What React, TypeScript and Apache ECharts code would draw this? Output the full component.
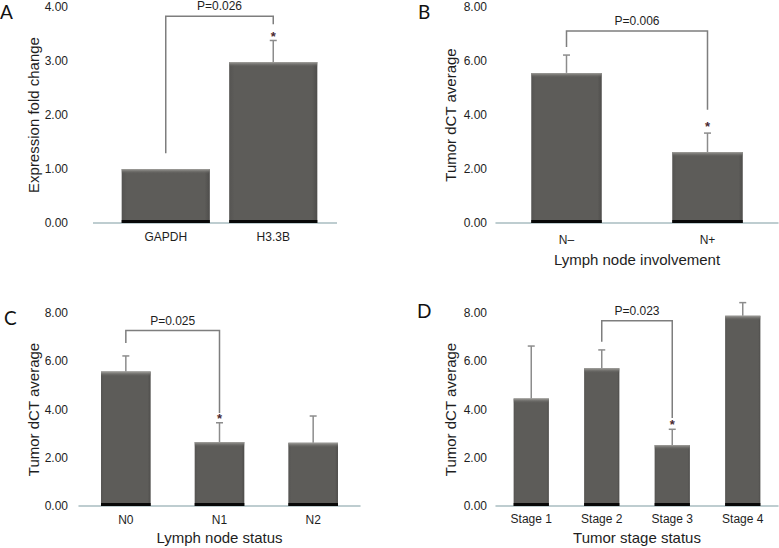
import React, { useEffect, useRef } from 'react';
import * as echarts from 'echarts';

// ---- Panel A ----
const categoriesA = ['GAPDH', 'H3.3B'];
const meansA = [1.0, 2.98];
const upperA = [1.0, 3.38];
const starsA = [0, 3.51];
const bracketA = [0, 1, 1.29, 3.83, 3.68]; // fromIdx, toIdx, fromY, topY, toY
const pLabelA = 'P=0.026';

// ---- Panel B ----
const categoriesB = ['N\u2013', 'N+'];
const meansB = [5.56, 2.63];
const upperB = [6.22, 3.33];
const starsB = [0, 3.7];
const bracketB = [0, 1, 6.52, 7.11, 4.19];
const pLabelB = 'P=0.006';

// ---- Panel C ----
const categoriesC = ['N0', 'N1', 'N2'];
const meansC = [5.57, 2.65, 2.62];
const upperC = [6.22, 3.45, 3.73];
const starsC = [0, 3.74, 0];
const bracketC = [0, 1, 6.76, 7.27, 3.85];
const pLabelC = 'P=0.025';

// ---- Panel D ----
const categoriesD = ['Stage 1', 'Stage 2', 'Stage 3', 'Stage 4'];
const meansD = [4.46, 5.71, 2.53, 7.89];
const upperD = [6.63, 6.47, 3.18, 8.43];
const starsD = [0, 0, 3.5, 0];
const bracketD = [1, 2, 6.81, 7.68, 3.65];
const pLabelD = 'P=0.023';

const FONT = 'Liberation Sans, Arial, sans-serif';
const TEXT = '#1e1e1e';
const AXIS = '#a9bdc1';

const overlay = (ratio: number) => (params: any, api: any) => {
  const idx = api.value(0);
  const v = api.value(1);
  const up = api.value(2);
  const st = api.value(3);
  const top = api.coord([idx, v]);
  const base = api.coord([idx, 0]);
  const band = api.size([1, 0])[0];
  const w = band * ratio;
  const x0 = top[0] - w / 2;
  const children: any[] = [
    {
      type: 'rect',
      shape: { x: x0, y: top[1], width: w, height: 5 },
      style: {
        fill: new echarts.graphic.LinearGradient(0, 0, 0, 1, [
          { offset: 0, color: '#a4a39f' },
          { offset: 1, color: 'rgba(92,91,88,0)' },
        ]),
      },
    },
    {
      type: 'rect',
      shape: { x: x0, y: base[1] - 3, width: w, height: 3 },
      style: { fill: '#080808' },
    },
  ];
  if (up > v) {
    const u = api.coord([idx, up]);
    children.push(
      { type: 'line', shape: { x1: top[0], y1: top[1], x2: top[0], y2: u[1] }, style: { stroke: '#8c8c8c', lineWidth: 1.5 } },
      { type: 'line', shape: { x1: top[0] - 3.5, y1: u[1], x2: top[0] + 3.5, y2: u[1] }, style: { stroke: '#8c8c8c', lineWidth: 1.5 } }
    );
  }
  if (st > 0) {
    const s = api.coord([idx, st]);
    children.push({
      type: 'text',
      style: {
        text: '*', x: s[0], y: s[1] + 3, align: 'center', verticalAlign: 'middle',
        fontSize: 13, fontWeight: 'bold', fontFamily: FONT, fill: '#4a2a32',
      },
    });
  }
  return { type: 'group', children };
};

const bracketItem = (b: number[], label: string) => (params: any, api: any) => {
  const p1 = api.coord([b[0], b[2]]);
  const p2 = api.coord([b[0], b[3]]);
  const p3 = api.coord([b[1], b[3]]);
  const p4 = api.coord([b[1], b[4]]);
  return {
    type: 'group',
    children: [
      { type: 'polyline', shape: { points: [p1, p2, p3, p4] }, style: { stroke: '#7e7e7e', lineWidth: 1.5, fill: 'none' } },
      {
        type: 'text',
        style: {
          text: label, x: (p2[0] + p3[0]) / 2, y: p2[1] - 10, align: 'center', verticalAlign: 'middle',
          fontSize: 12, fontFamily: FONT, fill: TEXT,
        },
      },
    ],
  };
};

const barColor = new echarts.graphic.LinearGradient(0, 0, 1, 0, [
  { offset: 0, color: '#555452' },
  { offset: 0.06, color: '#5d5c59' },
  { offset: 0.94, color: '#5d5c59' },
  { offset: 1, color: '#4e4d4b' },
]);

export default function App() {
  const ref = useRef<HTMLDivElement>(null);
  useEffect(() => {
    if (!ref.current) return;
    const chart = echarts.init(ref.current, undefined, { renderer: 'svg' });

    const panels = [
      { cats: categoriesA, means: meansA, upper: upperA, stars: starsA, br: bracketA, p: pLabelA, ratio: 0.82,
        grid: { left: 112, right: 452, top: 7, bottom: 325 }, max: 4, interval: 1, yName: 'Expression fold change',
        yGap: 58, yMargin: 44, xName: '', xGap: 29, xMargin: 8, showAxis: false },
      { cats: categoriesB, means: meansB, upper: upperB, stars: starsB, br: bracketB, p: pLabelB, ratio: 0.5,
        grid: { left: 496, right: 1, top: 7, bottom: 325 }, max: 8, interval: 2, yName: 'Tumor dCT average',
        yGap: 38, yMargin: 9, xName: 'Lymph node involvement', xGap: 29, xMargin: 11, showAxis: true },
      { cats: categoriesC, means: meansC, upper: upperC, stars: starsC, br: bracketC, p: pLabelC, ratio: 0.53,
        grid: { left: 79, right: 419, top: 313, bottom: 42 }, max: 8, interval: 2, yName: 'Tumor dCT average',
        yGap: 38, yMargin: 11, xName: 'Lymph node status', xGap: 24, xMargin: 8, showAxis: true },
      { cats: categoriesD, means: meansD, upper: upperD, stars: starsD, br: bracketD, p: pLabelD, ratio: 0.5,
        grid: { left: 496, right: 1, top: 313, bottom: 42 }, max: 8, interval: 2, yName: 'Tumor dCT average',
        yGap: 38, yMargin: 9, xName: 'Tumor stage status', xGap: 24, xMargin: 7, showAxis: true },
    ];

    const series: any[] = [];
    panels.forEach((pn, i) => {
      series.push({
        type: 'bar', xAxisIndex: i, yAxisIndex: i, data: pn.means, barWidth: `${pn.ratio * 100}%`,
        itemStyle: { color: barColor }, z: 2,
      });
      series.push({
        type: 'custom', xAxisIndex: i, yAxisIndex: i, z: 3, clip: false,
        renderItem: overlay(pn.ratio),
        encode: { x: 0, y: 1 },
        data: pn.means.map((m, k) => [k, m, pn.upper[k], pn.stars[k]]),
      });
      series.push({
        type: 'custom', xAxisIndex: i, yAxisIndex: i, z: 4, clip: false,
        renderItem: bracketItem(pn.br, pn.p),
        encode: { x: 0, y: 1 },
        data: [[pn.br[0], pn.br[3]]],
      });
    });

    chart.setOption({
      animation: false,
      backgroundColor: '#ffffff',
      grid: panels.map((p) => p.grid),
      xAxis: panels.map((p, i) => ({
        type: 'category', gridIndex: i, data: p.cats,
        axisTick: { show: false },
        axisLine: { show: p.showAxis, lineStyle: { color: AXIS, width: 1.5 } },
        axisLabel: { color: TEXT, fontSize: 12, fontFamily: FONT, margin: p.xMargin },
        name: p.xName, nameLocation: 'middle', nameGap: p.xGap,
        nameTextStyle: { color: TEXT, fontSize: 15, fontFamily: FONT },
      })),
      yAxis: panels.map((p, i) => ({
        type: 'value', gridIndex: i, min: 0, max: p.max, interval: p.interval,
        axisLine: { show: false }, axisTick: { show: false }, splitLine: { show: false },
        axisLabel: { color: TEXT, fontSize: 12, fontFamily: FONT, margin: p.yMargin, formatter: (v: number) => v.toFixed(2) },
        name: p.yName, nameLocation: 'middle', nameGap: p.yGap,
        nameTextStyle: { color: TEXT, fontSize: 15, fontFamily: FONT },
      })),
      series,
      graphic: [
        { type: 'line', shape: { x1: 93, y1: 223, x2: 337, y2: 223 }, style: { stroke: AXIS, lineWidth: 1.5 }, z: 1 },
        { type: 'text', left: 0, top: 2, style: { text: 'A', fontSize: 19, fontFamily: 'Lato, sans-serif', fill: '#111' } },
        { type: 'text', left: 418, top: 2, style: { text: 'B', fontSize: 19, fontFamily: 'Lato, sans-serif', fill: '#111' } },
        { type: 'text', left: 4, top: 308, style: { text: 'C', fontSize: 19, fontFamily: 'Lato, sans-serif', fill: '#111' } },
        { type: 'text', left: 417, top: 301, style: { text: 'D', fontSize: 19, fontFamily: 'Lato, sans-serif', fill: '#111' } },
      ],
    });
    return () => chart.dispose();
  }, []);
  return <div ref={ref} style={{ position: 'absolute', left: 0, top: 0, width: 779, height: 548 }} />;
}
